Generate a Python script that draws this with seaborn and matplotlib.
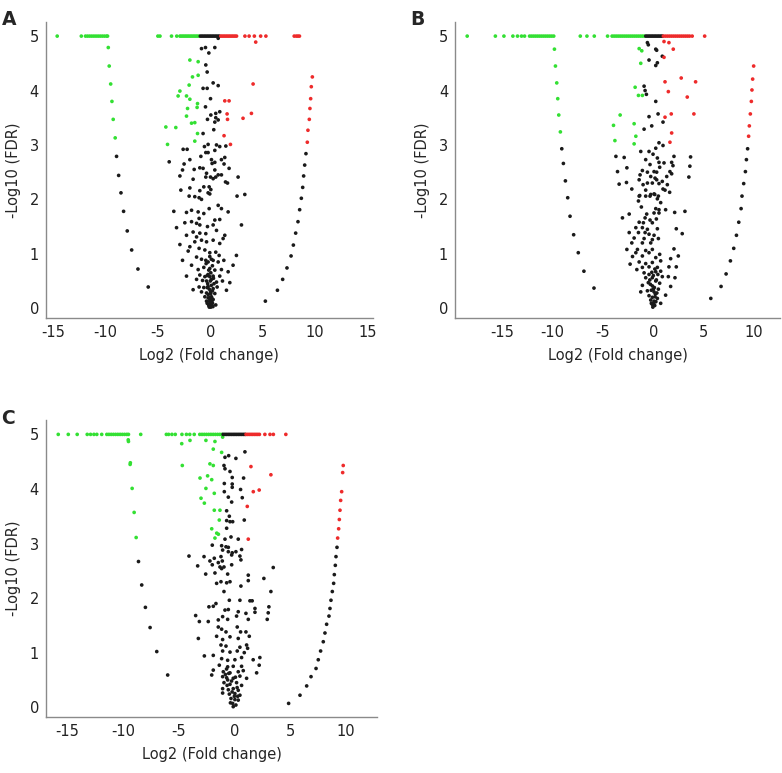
"""
Volcano plots (three comparisons A, B, C): Log2 fold change vs -Log10 FDR.
"""

import matplotlib
matplotlib.use("Agg")
import matplotlib.pyplot as plt
import seaborn as sns
import pandas as pd

# ---------------------------------------------------------------- data
# points capped at -Log10(FDR) = 5 (x positions only)
CAP = 5.0

A_cap_down = [-14.6, -12.3, -11.9, -11.7, -11.5, -11.3, -11.1, -10.9, -10.7, -10.5,
              -10.3, -10.1, -9.9, -9.8, -5.0, -4.8, -3.7, -3.2, -2.9, -2.75, -2.6,
              -2.45, -2.3, -2.15, -2.0, -1.85, -1.7, -1.55, -1.4, -1.25, -1.1]
A_cap_ns = [-0.95, -0.8, -0.65, -0.5, -0.35, -0.2, -0.05, 0.1, 0.25, 0.4, 0.55, 0.7, 0.85]
A_cap_up = [1.0, 1.15, 1.3, 1.45, 1.6, 1.75, 1.9, 2.05, 2.2, 2.35, 2.5, 3.3, 3.7, 4.2,
            4.8, 5.3, 8.0, 8.2, 8.35, 8.5]

A_down = [(-9.73, 4.79), (-9.64, 4.45), (-9.5, 4.12), (-9.38, 3.80), (-9.26, 3.47),
          (-9.07, 3.13), (-1.95, 4.56), (-1.16, 4.53), (-1.7, 4.25), (-1.16, 4.28),
          (-2.02, 4.10), (-2.9, 3.99), (-3.07, 3.90), (-2.27, 3.90), (-1.95, 3.84),
          (-2.17, 3.67), (-1.22, 3.76), (-1.26, 3.69), (-2.27, 3.53), (-1.79, 3.40),
          (-1.48, 3.41), (-4.24, 3.33), (-3.29, 3.32), (-1.22, 3.21), (-4.08, 3.01),
          (-1.48, 3.07)]
A_up = [(4.33, 4.89), (4.08, 4.12), (1.38, 3.81), (1.79, 3.81), (1.6, 3.57), (1.64, 3.47),
        (3.12, 3.49), (3.92, 3.58), (1.31, 3.17), (1.92, 3.01), (9.73, 4.25), (9.63, 4.07),
        (9.57, 3.85), (9.5, 3.67), (9.44, 3.47), (9.31, 3.27), (9.25, 3.05)]
A_ns = [
    # left arm
    (-8.94, 2.79), (-8.74, 2.44), (-8.52, 2.12), (-8.27, 1.78), (-7.92, 1.42),
    (-7.5, 1.07), (-6.9, 0.72), (-5.92, 0.39),
    # right arm
    (9.12, 2.84), (9.0, 2.63), (8.9, 2.43), (8.81, 2.22), (8.68, 2.02), (8.52, 1.81),
    (8.36, 1.59), (8.14, 1.38), (7.92, 1.16), (7.7, 0.96), (7.31, 0.74), (6.9, 0.53),
    (6.4, 0.33), (5.25, 0.13),
    # centre
    (0.75, 4.96), (-0.84, 4.77), (-0.46, 4.79), (0.43, 4.79), (-0.14, 4.69), (-0.43, 4.47),
    (-0.3, 4.34), (0.27, 4.14), (0.75, 4.09), (-0.69, 4.04), (-0.3, 4.04), (0.02, 3.85),
    (-0.46, 3.70), (0.05, 3.55), (0.9, 3.61), (0.52, 3.58), (-0.27, 3.47), (0.52, 3.50),
    (0.75, 3.46), (0.43, 3.42), (0.33, 3.28), (-0.69, 3.21), (-0.56, 2.97), (-0.21, 3.01),
    (0.59, 3.0), (0.9, 2.97), (1.48, 2.98), (-2.59, 2.92), (-2.21, 2.92), (-0.43, 2.86),
    (-0.21, 2.86), (0.43, 2.90), (-0.9, 2.79), (0.11, 2.73), (1.06, 2.73), (1.38, 2.77),
    (-3.92, 2.69), (-2.5, 2.65), (-1.95, 2.73), (0.17, 2.66), (0.43, 2.68), (1.31, 2.65),
    (-1.0, 2.58), (-0.69, 2.57), (0.43, 2.54), (1.79, 2.57), (-2.65, 2.54), (-1.54, 2.55),
    (-0.36, 2.48), (0.75, 2.45), (1.06, 2.45), (-2.9, 2.43), (-0.43, 2.41), (0.02, 2.41),
    (0.27, 2.38), (0.52, 2.41), (2.65, 2.41), (-1.64, 2.37), (1.45, 2.32), (1.64, 2.30),
    (-2.81, 2.17), (-1.95, 2.21), (-0.11, 2.23), (-1.0, 2.16), (-0.21, 2.12), (-2.02, 2.06),
    (-1.48, 2.05), (-1.07, 2.03), (-0.84, 2.0), (2.55, 2.06), (3.29, 2.09),
    (-3.48, 1.78), (-3.22, 1.48), (-2.9, 1.17), (-2.65, 0.88), (-2.27, 0.59), (-1.64, 0.34),
    (2.97, 1.53), (2.49, 0.97), (2.17, 0.79), (1.86, 0.47), (1.54, 0.33), (0.05, 2.18),
    (-0.62, 2.23), (-0.05, 2.10), (0.75, 1.89), (1.06, 1.83), (1.7, 1.77), (-2.27, 1.76),
    (-1.79, 1.80), (-1.16, 1.77), (-0.62, 1.74), (-0.11, 1.83), (0.43, 1.62), (0.9, 1.63),
    (-1.07, 1.65), (-1.79, 1.59), (-2.43, 1.57), (-1.31, 1.56), (-1.0, 1.53), (-0.27, 1.50),
    (0.27, 1.53), (0.59, 1.43), (-1.64, 1.40), (-1.0, 1.38), (-0.43, 1.37), (1.38, 1.34),
    (-2.27, 1.34), (-1.31, 1.31), (-0.84, 1.25), (-0.36, 1.22), (0.27, 1.25), (0.9, 1.19),
    (1.22, 1.28), (-1.48, 1.22), (-1.95, 1.13), (-1.07, 1.10), (-0.52, 1.07), (-0.05, 1.02),
    (0.52, 1.03), (0.84, 0.97), (-2.11, 1.05), (-1.31, 0.94), (-0.84, 0.90), (-0.43, 0.88),
    (-0.21, 0.85), (0.27, 0.88), (0.75, 0.85), (1.29, 0.88), (-1.79, 0.79), (-1.16, 0.71),
    (-0.62, 0.75), (-0.05, 0.73), (0.43, 0.70), (1.06, 0.71), (1.7, 0.67), (-1.0, 0.61),
    (-0.52, 0.58), (-0.21, 0.62), (0.27, 0.59), (0.9, 0.59), (-1.31, 0.53), (-0.74, 0.51),
    (-0.36, 0.50), (0.11, 0.53), (0.59, 0.48), (1.16, 0.50), (-1.07, 0.39), (-0.62, 0.38),
    (-0.21, 0.40), (0.27, 0.36), (0.65, 0.39), (-0.84, 0.30), (-0.36, 0.28), (0.02, 0.30),
    (0.43, 0.27), (-0.52, 0.21), (-0.21, 0.19), (0.11, 0.21), (0.27, 0.16), (-0.36, 0.13),
    (-0.05, 0.12), (-0.11, 0.06), (0.05, 0.02), (0.52, 0.06), (-0.3, 0.09), (0.21, 0.09),
    (-0.15, 0.05), (0.0, 0.08), (0.1, 0.04), (-0.05, 0.15), (0.15, 0.18), (-0.2, 0.25),
    (0.05, 0.27), (0.2, 0.32), (-0.1, 0.35), (0.1, 0.42), (-0.25, 0.45), (0.0, 0.5),
    (0.3, 0.55), (-0.3, 0.6), (0.05, 0.65), (-0.15, 0.7), (0.2, 0.78), (-0.4, 0.82),
    (0.1, 0.9), (-0.05, 0.95), (0.25, 0.03), (-0.1, 0.02), (0.0, 0.2), (-0.3, 0.38),
    (0.35, 0.45), (-0.05, 0.58), (0.15, 0.12)]

B_cap_down = [-18.5, -15.7, -14.85, -13.96, -13.5, -13.1, -12.8, -12.3, -12.1, -11.9,
              -11.7, -11.5, -11.3, -11.1, -10.9, -10.7, -10.5, -10.3, -10.1, -9.9,
              -7.26, -6.6, -5.87, -4.55, -4.1, -3.9, -3.7, -3.5, -3.3, -3.1, -2.9, -2.7,
              -2.5, -2.3, -2.1, -1.9, -1.7, -1.5, -1.3, -1.1, -0.9]
B_cap_ns = [-0.75, -0.6, -0.45, -0.3, -0.15, 0.0, 0.15, 0.3, 0.45, 0.6, 0.75, 0.9]
B_cap_up = [1.0, 1.2, 1.4, 1.6, 1.8, 2.0, 2.2, 2.4, 2.6, 2.8, 3.0, 3.2, 3.4, 3.6,
            3.86, 5.1]

B_down = [(-9.83, 4.76), (-9.73, 4.45), (-9.6, 4.14), (-9.5, 3.85), (-9.4, 3.55),
          (-9.24, 3.24), (-1.41, 4.77), (-1.15, 4.73), (-1.25, 4.50), (-1.81, 4.06),
          (-1.48, 3.91), (-1.09, 3.91), (-3.3, 3.55), (-3.96, 3.36), (-1.91, 3.39),
          (-1.74, 3.16), (-3.82, 3.08), (-1.91, 3.02)]
B_up = [(1.06, 4.9), (1.55, 4.88), (1.98, 4.76), (1.06, 4.61), (1.16, 4.16), (2.77, 4.23),
        (4.2, 4.16), (1.49, 3.98), (3.37, 3.88), (1.16, 3.51), (1.78, 3.57), (4.03, 3.57),
        (1.82, 3.22), (1.65, 3.05), (9.97, 4.45), (9.87, 4.21), (9.8, 4.01), (9.74, 3.80),
        (9.64, 3.57), (9.54, 3.35), (9.47, 3.16)]
B_ns = [
    (-9.1, 2.93), (-8.94, 2.66), (-8.74, 2.34), (-8.51, 2.03), (-8.28, 1.69), (-7.92, 1.35),
    (-7.46, 1.02), (-6.9, 0.68), (-5.9, 0.37),
    (9.37, 2.93), (9.25, 2.73), (9.15, 2.51), (8.98, 2.29), (8.81, 2.06), (8.72, 1.83),
    (8.49, 1.58), (8.26, 1.34), (7.99, 1.10), (7.66, 0.87), (7.23, 0.63), (6.73, 0.40),
    (5.71, 0.18),
    (-0.59, 4.88), (-0.5, 4.84), (0.24, 4.76), (0.33, 4.74), (0.89, 4.63), (-0.43, 4.56),
    (0.4, 4.51), (0.24, 4.46), (-0.92, 4.08), (-0.82, 4.0), (-0.69, 3.93), (0.24, 3.80),
    (0.47, 3.57), (-0.43, 3.52), (-0.16, 3.35), (0.96, 3.42), (-0.92, 3.29), (0.56, 3.04),
    (0.96, 2.99), (0.24, 2.94), (-1.25, 2.88), (-0.43, 2.88), (-0.03, 2.83), (0.4, 2.76),
    (0.56, 2.68), (1.06, 2.67), (2.05, 2.79), (3.7, 2.78), (-3.72, 2.79), (-2.9, 2.77),
    (-2.63, 2.58), (-3.56, 2.51), (-0.76, 2.73), (-0.33, 2.64), (0.63, 2.59), (1.82, 2.68),
    (1.95, 2.62), (3.63, 2.61), (-1.09, 2.53), (0.07, 2.51), (0.33, 2.5), (1.65, 2.51),
    (-1.32, 2.45), (-0.59, 2.5), (-0.26, 2.42), (0.17, 2.39), (1.33, 2.42), (1.82, 2.47),
    (3.53, 2.41), (-1.41, 2.36), (0.33, 2.36), (0.89, 2.33), (-3.4, 2.28), (-2.67, 2.31),
    (-1.02, 2.27), (-0.59, 2.3), (-0.1, 2.3), (0.56, 2.29), (1.39, 2.27), (-2.14, 2.19),
    (-0.76, 2.17), (0.96, 2.19), (1.16, 2.17), (1.62, 2.13), (-0.26, 2.09), (0.07, 2.10),
    (-1.41, 2.06), (-0.76, 2.06), (0.5, 2.06),
    (-1.35, 2.07), (-0.33, 2.06), (0.14, 2.09), (0.4, 2.01), (-1.48, 1.97), (0.73, 1.94),
    (-1.19, 1.86), (0.24, 1.83), (0.56, 1.81), (1.22, 1.81), (-2.4, 1.73), (-3.07, 1.66),
    (-0.66, 1.73), (0.07, 1.75), (0.56, 1.75), (2.12, 1.76), (3.14, 1.78), (-0.82, 1.66),
    (-0.33, 1.62), (0.3, 1.64), (-1.41, 1.58), (-0.99, 1.57), (-0.1, 1.57), (-1.74, 1.48),
    (-1.09, 1.48), (-0.59, 1.45), (0.4, 1.46), (2.28, 1.46), (2.87, 1.37), (-2.4, 1.39),
    (-1.48, 1.39), (-0.82, 1.39), (-0.43, 1.36), (0.07, 1.34), (-1.91, 1.29), (-0.92, 1.28),
    (-0.1, 1.26), (0.5, 1.28), (-2.14, 1.20), (-1.09, 1.20), (-0.26, 1.20), (-2.63, 1.08),
    (-1.58, 1.08), (-0.76, 1.06), (-0.1, 1.08), (2.05, 1.09), (-1.74, 1.02), (-0.43, 1.02),
    (0.63, 0.99), (2.48, 0.96), (-2.07, 0.95), (-1.09, 0.96), (0.24, 0.93), (1.72, 0.91),
    (-2.31, 0.81), (-1.41, 0.85), (-0.76, 0.82), (-0.1, 0.84), (0.73, 0.87), (-1.64, 0.71),
    (-1.09, 0.75), (-0.43, 0.76), (0.4, 0.75), (1.55, 0.76), (2.28, 0.76), (-0.92, 0.65),
    (-0.43, 0.62), (0.24, 0.67), (0.73, 0.68), (-0.76, 0.56), (-0.1, 0.56), (0.89, 0.58),
    (1.49, 0.58), (2.15, 0.56), (-0.5, 0.47), (0.24, 0.50), (0.63, 0.46), (1.72, 0.40),
    (-1.09, 0.42), (-0.1, 0.41), (-1.25, 0.30), (-0.59, 0.32), (0.07, 0.30), (0.5, 0.35),
    (1.22, 0.24), (-0.43, 0.23), (0.17, 0.21), (-0.26, 0.15), (0.07, 0.13), (-0.1, 0.07),
    (0.14, 0.05), (0.73, 0.09), (0.4, 0.18),
    (-0.05, 0.02), (0.05, 0.1), (0.2, 0.26), (-0.2, 0.33), (0.1, 0.38), (-0.3, 0.44),
    (0.3, 0.52), (0.0, 0.6), (-0.15, 0.66), (0.45, 0.62), (0.15, 0.72), (-0.35, 0.52),
    (0.0, 0.35), (-0.1, 0.2), (0.25, 0.12), (0.35, 0.28), (-0.2, 0.09)]

C_cap_down = [-15.8, -14.9, -14.1, -13.2, -12.9, -12.6, -12.34, -11.9, -11.44, -11.25,
              -11.05, -10.85, -10.65, -10.45, -10.25, -10.05, -9.85, -9.65, -9.5, -8.4,
              -6.1, -5.9, -5.6, -5.3, -4.7, -4.3, -4.0, -3.6, -3.1, -2.9, -2.7, -2.5,
              -2.3, -2.1, -1.9, -1.7, -1.5, -1.3, -1.1]
C_cap_ns = [-1.0, -0.85, -0.7, -0.55, -0.4, -0.25, -0.1, 0.05, 0.2, 0.35, 0.5, 0.65,
            0.8, 0.95]
C_cap_up = [1.05, 1.2, 1.35, 1.5, 1.65, 1.8, 1.95, 2.1, 2.25, 2.74, 3.2, 3.5, 4.62]

C_down = [(-9.5, 4.87), (-9.52, 4.90), (-9.35, 4.45), (-9.33, 4.48), (-9.17, 4.01),
          (-8.99, 3.57), (-8.81, 3.11), (-4.72, 4.83), (-3.98, 4.89), (-2.55, 4.89),
          (-1.74, 4.87), (-1.05, 4.95), (-1.89, 4.73), (-1.14, 4.67), (-4.67, 4.43),
          (-2.19, 4.46), (-1.89, 4.43), (-2.4, 4.24), (-3.08, 4.20), (-2.03, 4.17),
          (-2.55, 4.01), (-1.8, 3.92), (-2.99, 3.83), (-2.69, 3.74), (-1.8, 3.61),
          (-1.29, 3.61), (-1.35, 3.43), (-2.03, 3.27), (-1.58, 3.19), (-1.43, 3.17),
          (-1.74, 3.10)]
C_up = [(1.49, 4.41), (3.28, 4.26), (1.7, 3.95), (2.23, 3.98), (1.16, 3.68), (1.25, 3.08),
        (9.77, 4.43), (9.72, 4.30), (9.63, 3.95), (9.54, 3.79), (9.48, 3.61), (9.42, 3.44),
        (9.36, 3.27), (9.27, 3.10)]
C_ns = [
    (-8.6, 2.67), (-8.31, 2.24), (-7.98, 1.83), (-7.56, 1.46), (-6.96, 1.02), (-5.98, 0.59),
    (9.21, 2.93), (9.12, 2.76), (9.06, 2.60), (8.97, 2.43), (8.91, 2.27), (8.79, 2.12),
    (8.67, 1.96), (8.58, 1.81), (8.49, 1.67), (8.28, 1.52), (8.13, 1.36), (7.98, 1.20),
    (7.74, 1.03), (7.53, 0.87), (7.33, 0.71), (6.88, 0.56), (6.49, 0.39), (5.89, 0.22),
    (4.87, 0.07),
    (0.95, 4.68), (-0.84, 4.58), (-0.51, 4.61), (0.14, 4.56), (-0.93, 4.43), (-0.84, 4.37),
    (-0.39, 4.32), (-0.19, 4.21), (0.83, 4.20), (-0.9, 4.10), (-0.19, 4.09), (-0.19, 4.03),
    (0.56, 3.99), (-0.9, 3.95), (-0.54, 3.85), (0.71, 3.84), (-0.24, 3.76), (-0.69, 3.60),
    (-0.45, 3.50), (-0.69, 3.42), (-0.39, 3.40), (-0.15, 3.40), (0.89, 3.43), (-0.69, 3.28),
    (-0.3, 3.12), (-0.84, 3.08), (0.35, 3.08), (-1.98, 2.97), (-1.14, 2.96), (-0.75, 2.94),
    (-0.54, 2.93), (-1.05, 2.88), (-0.54, 2.85), (-0.19, 2.83), (0.14, 2.85), (0.65, 2.89),
    (-4.07, 2.77), (-2.72, 2.76), (-2.19, 2.68), (-1.8, 2.73), (-1.2, 2.76), (-1.08, 2.68),
    (-0.24, 2.79), (0.5, 2.77), (0.59, 2.70), (-3.29, 2.59), (-1.98, 2.61), (-1.44, 2.65),
    (-1.29, 2.57), (-0.93, 2.57), (-0.24, 2.61), (3.49, 2.56),
    (-2.57, 2.44), (-1.74, 2.46), (-1.14, 2.54), (-0.6, 2.44), (1.25, 2.42), (2.65, 2.36),
    (-1.59, 2.27), (-1.2, 2.30), (-0.69, 2.28), (-0.39, 2.30), (0.59, 2.22), (1.25, 2.32),
    (-0.93, 2.12), (3.28, 2.12), (0.5, 1.96), (1.4, 1.95), (1.6, 1.95), (-0.45, 1.96),
    (-2.28, 1.84), (-1.89, 1.85), (-1.65, 1.90), (-0.84, 1.78), (-0.54, 1.79), (0.35, 1.75),
    (1.04, 1.72), (1.85, 1.81), (1.85, 1.74), (3.1, 1.84), (3.04, 1.73), (2.95, 1.61),
    (-3.47, 1.68), (-3.14, 1.57), (-2.34, 1.57), (-1.44, 1.60), (-1.05, 1.66), (-0.6, 1.61),
    (0.2, 1.67), (1.25, 1.61), (-1.44, 1.47), (-1.14, 1.43), (-0.75, 1.38), (0.26, 1.47),
    (0.56, 1.38), (1.04, 1.38), (-3.23, 1.26), (-1.59, 1.30), (-1.05, 1.24), (-0.39, 1.29),
    (0.35, 1.26), (1.34, 1.30), (-1.2, 1.14), (-0.75, 1.12), (0.5, 1.10), (1.1, 1.14),
    (1.19, 1.08), (-1.05, 1.03), (-0.39, 1.01), (0.26, 1.03), (0.89, 1.00), (-2.69, 0.94),
    (-1.89, 0.95), (-1.14, 0.89), (-0.6, 0.86), (0.05, 0.87), (0.65, 0.91), (1.69, 0.87),
    (2.29, 0.91), (-1.35, 0.77), (-0.6, 0.74), (-0.1, 0.75), (0.65, 0.75), (2.23, 0.77),
    (-1.89, 0.68), (-0.99, 0.65), (-0.39, 0.63), (0.35, 0.65), (0.8, 0.67), (2.0, 0.63),
    (-2.03, 0.59), (-1.05, 0.56), (-0.69, 0.54), (-0.1, 0.53), (0.5, 0.57), (1.1, 0.53),
    (-0.93, 0.45), (-0.39, 0.42), (0.2, 0.45), (0.65, 0.40), (-1.05, 0.34), (-0.54, 0.32),
    (-0.1, 0.34), (0.35, 0.31), (-1.05, 0.26), (-0.45, 0.24), (0.05, 0.25), (0.5, 0.22),
    (-0.3, 0.16), (0.05, 0.14), (0.35, 0.13), (-0.15, 0.07), (0.14, 0.04), (-0.1, 0.01),
    (-0.8, 0.6), (-0.7, 0.7), (-0.6, 0.5), (-0.5, 0.62), (-0.25, 0.48), (0.1, 0.55),
    (0.25, 0.36), (-0.2, 0.28), (0.0, 0.2), (-0.65, 0.4), (0.3, 0.2), (-0.35, 0.08)]

# ---------------------------------------------------------------- style
sns.set_style("white")
plt.rcParams["font.family"] = ["DejaVu Sans"]

PALETTE = {"down": "#33e033", "ns": "#1a1a1a", "up": "#ee2b2b"}
SPINE = "#8a8a8a"


def panel_frame(down, ns, up, cap_down, cap_ns, cap_up):
    """Collect one panel's points into a long DataFrame."""
    parts = []
    for group, pts in (("ns", ns), ("down", down), ("up", up)):
        parts.append(pd.DataFrame(pts, columns=["fc", "fdr"]).assign(group=group))
    for group, xs in (("down", cap_down), ("ns", cap_ns), ("up", cap_up)):
        parts.append(pd.DataFrame({"fc": xs, "fdr": CAP, "group": group}))
    return pd.concat(parts, ignore_index=True)


def draw_volcano(ax, data, xlim, xticks):
    sns.scatterplot(data=data, x="fc", y="fdr", hue="group", palette=PALETTE,
                    s=7, linewidth=0, legend=False, ax=ax)
    ax.set_xlim(*xlim)
    ax.set_ylim(-0.18, 5.26)
    ax.set_xticks(xticks)
    ax.set_yticks([0, 1, 2, 3, 4, 5])
    ax.set_xticklabels([str(t) for t in xticks])
    ax.set_xlabel("Log2 (Fold change)", fontsize=10.5, labelpad=6)
    ax.set_ylabel("-Log10 (FDR)", fontsize=10.5, labelpad=6)
    for side in ("top", "right"):
        ax.spines[side].set_visible(False)
    for side in ("left", "bottom"):
        ax.spines[side].set_color(SPINE)
        ax.spines[side].set_linewidth(1.0)
    ax.tick_params(direction="in", length=5, width=1, color=SPINE,
                   labelsize=10.5, labelcolor="#222222", pad=5)


fig = plt.figure(figsize=(7.82, 7.73), dpi=100)
ax_a = fig.add_axes([0.0588, 0.5886, 0.418, 0.383])
ax_b = fig.add_axes([0.582, 0.5886, 0.4156, 0.383])
ax_c = fig.add_axes([0.0588, 0.0724, 0.4233, 0.384])

draw_volcano(ax_a, panel_frame(A_down, A_ns, A_up, A_cap_down, A_cap_ns, A_cap_up),
             (-15.67, 15.5), [-15, -10, -5, 0, 5, 10, 15])
draw_volcano(ax_b, panel_frame(B_down, B_ns, B_up, B_cap_down, B_cap_ns, B_cap_up),
             (-19.7, 12.6), [-15, -10, -5, 0, 5, 10])
draw_volcano(ax_c, panel_frame(C_down, C_ns, C_up, C_cap_down, C_cap_ns, C_cap_up),
             (-16.9, 12.8), [-15, -10, -5, 0, 5, 10])

for label, x, y in (("A", 0.002, 0.975), ("B", 0.524, 0.975), ("C", 0.002, 0.458)):
    fig.text(x, y, label, fontsize=13.5, fontweight="bold", va="center", ha="left")

fig.savefig("out.png", dpi=100)
